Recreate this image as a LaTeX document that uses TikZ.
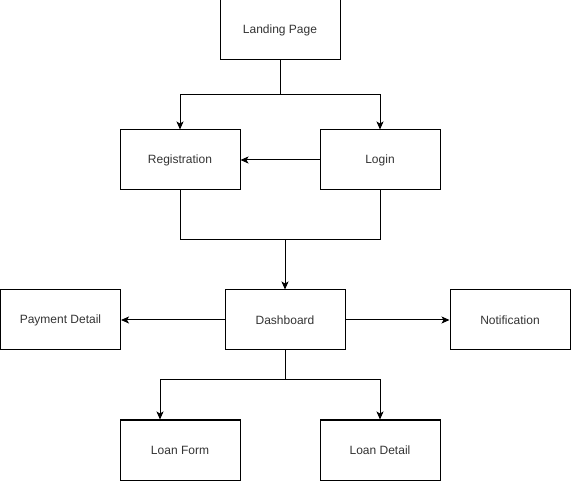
\documentclass[tikz,border=0pt]{standalone}
\usepackage{fontspec}
\setmainfont{Liberation Sans}
\usetikzlibrary{arrows.meta}
\begin{document}
\begin{tikzpicture}[x=1pt,y=-1pt,
  box/.style={draw=black,line width=1pt,minimum width=120pt,minimum height=60pt,inner sep=0pt,font=\fontsize{12pt}{14pt}\selectfont,text=black!80},
  conn/.style={draw=black,line width=1pt},
  arr/.style={conn,-{Stealth[length=8pt,width=7pt,inset=2pt]}}]
\useasboundingbox (0,0) rectangle (571,481);
\node[box] (landing) at (280,30) {Landing Page};
\node[box] (reg) at (180,160) {Registration};
\node[box] (login) at (380,160) {Login};
\node[box] (pay) at (60.5,320) {Payment Detail};
\node[box] (dash) at (285,320) {Dashboard};
\node[box] (notif) at (510,320) {Notification};
\node[box] (form) at (180,450) {Loan Form};
\node[box] (detail) at (380,450) {Loan Detail};
\coordinate (j1) at (280,95);
\coordinate (j2) at (285,240);
\coordinate (j3) at (285,380);
\draw[conn] (landing.south) -- (j1);
\draw[arr] (j1) -| (reg.north);
\draw[arr] (j1) -| (login.north);
\draw[arr] (login.west) -- (reg.east);
\draw[conn] (reg.south) |- (j2);
\draw[conn] (login.south) |- (j2);
\draw[arr] (j2) -- (dash.north);
\draw[arr] (dash.west) -- (pay.east);
\draw[arr] (dash.east) -- (notif.west);
\draw[conn] (dash.south) -- (j3);
\draw[arr] (j3) -| ([xshift=-20pt]form.north);
\draw[arr] (j3) -| (detail.north);
\end{tikzpicture}
\end{document}
